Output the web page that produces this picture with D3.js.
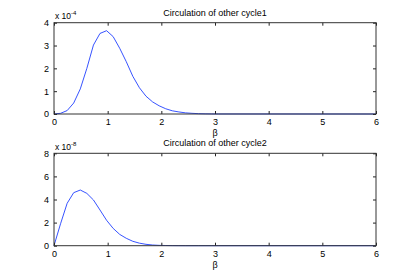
<!DOCTYPE html>
<html>
<head>
<meta charset="utf-8">
<script src="https://cdn.jsdelivr.net/npm/d3@7"></script>
<style>
  body { margin: 0; background: #fff; }
  text { font-family: "Liberation Sans", Arial, sans-serif; fill: #000; }
</style>
</head>
<body>
<svg id="chart" width="415" height="277"></svg>
<script>
// beta samples (0..6, tail is zero)
var beta = [0, 0.122, 0.245, 0.367, 0.490, 0.612, 0.735, 0.857, 0.980, 1.102,
            1.224, 1.347, 1.469, 1.592, 1.714, 1.837, 1.959, 2.082, 2.204, 2.327,
            2.449, 2.571, 2.694, 2.816, 2.939, 3.061, 6];
// cycle1, in units of 1e-4
var cycle1 = [0, 0.03, 0.15, 0.48, 1.1, 2.0, 3.02, 3.53, 3.65, 3.39,
              2.88, 2.29, 1.65, 1.15, 0.78, 0.53, 0.36, 0.23, 0.14, 0.09,
              0.05, 0.03, 0.015, 0.008, 0.004, 0.002, 0];
// cycle2, in units of 1e-8
var cycle2 = [0, 1.9, 3.67, 4.59, 4.82, 4.53, 3.96, 3.09, 2.2, 1.5,
              0.98, 0.64, 0.38, 0.22, 0.12, 0.06, 0.03, 0.015, 0.007, 0.003,
              0, 0, 0, 0, 0, 0, 0];
var xTicks = [0, 1, 2, 3, 4, 5, 6];
var yTicks1 = [0, 1, 2, 3, 4];
var yTicks2 = [0, 2, 4, 6, 8];

var svg = d3.select("#chart");

var panels = [
  {title: "Circulation of other cycle1", vals: cycle1, ymax: 4, ticks: yTicks1, exp: "-4", top: 22.7, bottom: 114},
  {title: "Circulation of other cycle2", vals: cycle2, ymax: 8, ticks: yTicks2, exp: "-8", top: 153.3, bottom: 245.7}
];

var left = 54, right = 376;
var x = d3.scaleLinear().domain([0, 6]).range([left, right]);
var fmt = d3.format("d");

panels.forEach(function (p) {
	var y = d3.scaleLinear().domain([0, p.ymax]).range([p.bottom, p.top]);
	var g = svg.append("g");

	// curve
	g.append("path")
		.datum(beta)
		.attr("d", d3.line()
			.x(function (d) { return x(d); })
			.y(function (d, i) { return y(p.vals[i]); }))
		.style("fill", "none")
		.style("stroke", "#2040ff")
		.style("stroke-width", 0.9);

	// bottom / top axes, ticks inward
	g.append("g")
		.attr("transform", "translate(0," + p.bottom + ")")
		.call(d3.axisBottom(x).tickValues(xTicks).tickFormat(fmt).tickSizeInner(-3).tickSizeOuter(0).tickPadding(5))
		.call(function (a) { a.select(".domain").remove(); });
	g.append("g")
		.attr("transform", "translate(0," + p.top + ")")
		.call(d3.axisTop(x).tickValues(xTicks).tickSizeInner(-3).tickSizeOuter(0).tickFormat(""))
		.call(function (a) { a.select(".domain").remove(); });
	g.append("g")
		.attr("transform", "translate(" + left + ",0)")
		.call(d3.axisLeft(y).tickValues(p.ticks).tickFormat(fmt).tickSizeInner(-3).tickSizeOuter(0).tickPadding(5))
		.call(function (a) { a.select(".domain").remove(); });
	g.append("g")
		.attr("transform", "translate(" + right + ",0)")
		.call(d3.axisRight(y).tickValues(p.ticks).tickSizeInner(-3).tickSizeOuter(0).tickFormat(""))
		.call(function (a) { a.select(".domain").remove(); });

	g.selectAll(".tick text").style("font-size", "9px").style("font-family", "Liberation Sans, Arial, sans-serif");
	g.selectAll(".tick line").style("stroke", "#222");

	// box
	g.append("rect")
		.attr("x", left).attr("y", p.top)
		.attr("width", right - left).attr("height", p.bottom - p.top)
		.style("fill", "none").style("stroke", "#333").style("stroke-width", 1);

	// title
	g.append("text")
		.attr("x", (left + right) / 2).attr("y", p.top - 7)
		.attr("text-anchor", "middle")
		.style("font-size", "9px")
		.text(p.title);

	// exponent label
	var m = g.append("text")
		.attr("x", left + 1).attr("y", p.top - 3.5)
		.style("font-size", "8.5px");
	m.append("tspan").text("x 10");
	m.append("tspan").attr("dy", -4).style("font-size", "6px").text(p.exp);

	// x label
	g.append("text")
		.attr("x", (left + right) / 2).attr("y", p.bottom + 22)
		.attr("text-anchor", "middle")
		.style("font-size", "9px")
		.text("β");
});
</script>
</body>
</html>
